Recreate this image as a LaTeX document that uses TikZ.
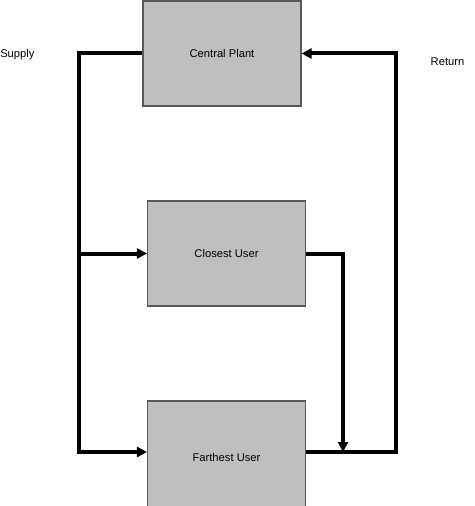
\documentclass[tikz,border=0pt]{standalone}
\usepackage{fontspec}
\setmainfont{Liberation Sans}
\usetikzlibrary{arrows.meta}
\begin{document}
\begin{tikzpicture}[x=0.75pt,y=-0.75pt]
\tikzstyle{every node}=[font=\fontsize{8.4}{10}\selectfont]
\tikzstyle{box}=[draw=black!65,fill=black!25,line width=0.8pt,minimum width=158*0.75pt,minimum height=105*0.75pt]
\tikzstyle{pipe}=[line width=3pt,line join=miter]
\tikzstyle{tip}=[-{Triangle[length=7.5pt,width=7.5pt]}]
\useasboundingbox (0,0) rectangle (474,506);
\node[box] (plant) at (222,53.5) {Central Plant\hspace{6pt}};
\node[box] (closest) at (226.5,253.5) {Closest User\hspace{8pt}};
\node[box,minimum height=112*0.75pt] (farthest) at (226.5,457) {Farthest User\hspace{5pt}};
\node[anchor=west,inner sep=0pt] (supply) at (0,55) {Supply};
\node[inner sep=0pt] (return) at (447.5,62) {Return};
\coordinate (sup) at (79,53.5);
\coordinate (ret) at (396,53.5);
\coordinate (drop) at (343,452);
\draw[pipe,tip] (plant.west) -- (sup) |- (farthest.west |- drop);
\draw[pipe,tip] (sup |- closest.west) -- (closest.west);
\draw[pipe,tip] (closest.east) -| (drop);
\draw[pipe,tip] (farthest.east |- drop) -| (ret) -- (plant.east);
\end{tikzpicture}
\end{document}
